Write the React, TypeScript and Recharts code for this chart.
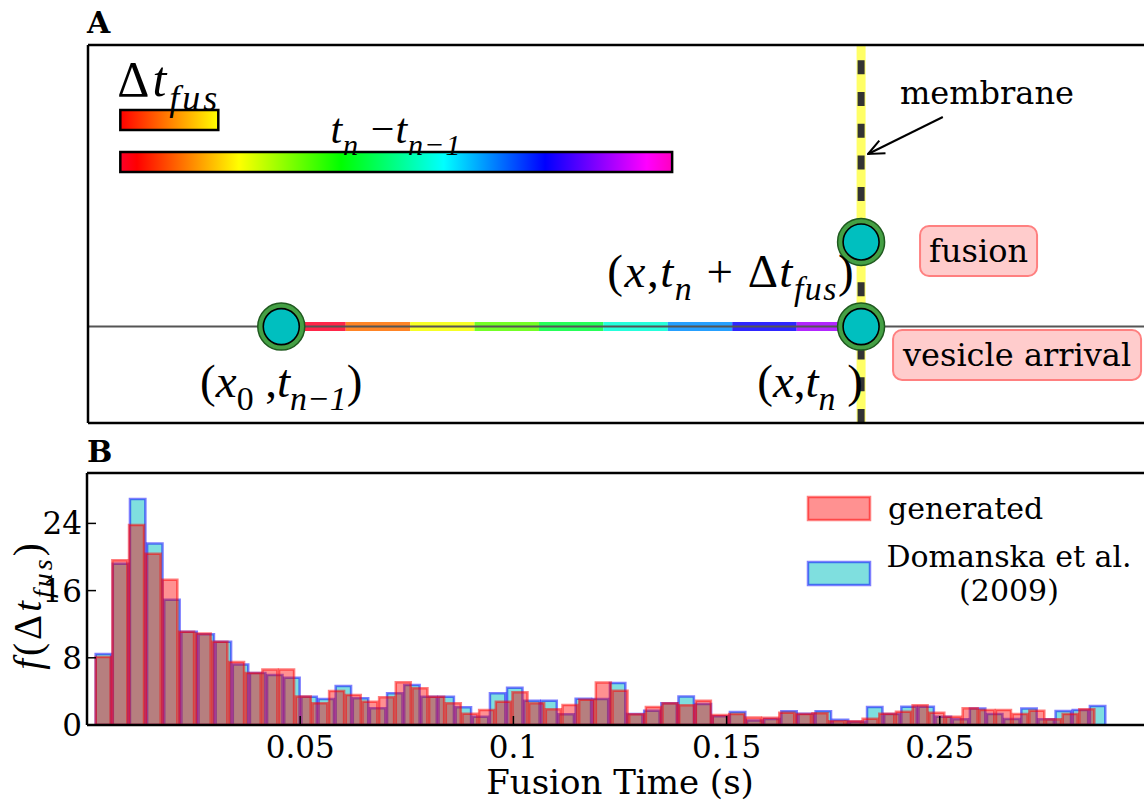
import React from "react";
import { ComposedChart, Bar, XAxis, YAxis, Scatter, ReferenceLine, ReferenceArea } from "recharts";

const SERIF = "'DejaVu Serif', serif";
const MATH = "'Liberation Serif', serif";

/* ---------------- panel B : histogram of fusion times ---------------- */
const TIME_DOMAIN: [number, number] = [0, 0.25];
const TIME_TICKS = [0.05, 0.1, 0.15, 0.2];
const TIME_TICK_LABELS = ["0.05", "0.1", "0.15", "0.25"];
const FREQ_DOMAIN: [number, number] = [0, 30];
const FREQ_TICKS = [0, 8, 16, 24];

// bin edges in seconds
const BIN_START = 0.0018;
const GEN_BIN = 0.00391; // 60 bins
const DOM_BIN = 0.00402; // 59 bins

const GENERATED = [
  8.1, 19.6, 23.8, 20.4, 17.3, 11.1, 10.9, 9.9, 7.5, 6.2,
  6.6, 6.6, 3.4, 2.6, 4.05, 3.57, 2.78, 3.29, 5.08, 4.37,
  3.37, 2.58, 1.35, 1.79, 2.78, 3.89, 2.58, 1.87, 2.38, 3.02,
  5.06, 4.09, 1.27, 2.14, 2.58, 2.35, 2.9, 1.19, 1.31, 0.89,
  0.85, 1.47, 1.31, 1.41, 0.46, 0.46, 0.75, 1.35, 1.59, 2.34,
  1.47, 0.99, 1.98, 1.79, 1.79, 1.31, 1.71, 0.67, 1.31, 1.87,
];
const DOMANSKA = [
  8.45, 19.2, 26.9, 21.6, 14.9, 11.1, 10.8, 9.9, 7.2, 6.2,
  5.95, 5.63, 3.37, 3.1, 4.64, 3.17, 1.98, 3.77, 4.76, 3.37,
  3.37, 2.1, 0.99, 3.77, 4.44, 2.9, 2.9, 1.27, 3.13, 3.1,
  5.0, 1.3, 1.7, 2.58, 3.4, 2.5, 1.05, 1.55, 0.55, 0.7,
  1.65, 1.33, 1.65, 0.63, 0.4, 2.14, 1.31, 2.18, 2.18, 0.99,
  0.67, 1.95, 1.31, 0.71, 1.95, 0.67, 1.67, 1.79, 2.26,
];
const LEGEND_NAMES = ["generated", "Domanska et al.", "(2009)"];

/* ---------------- panel A : schematic ---------------- */
const A_X_DOMAIN: [number, number] = [-1 / 3, 1.5];
const A_Y_DOMAIN: [number, number] = [0, 1];
const X0 = 0;
const X_MEMBRANE = 1;
const Y_TRACK = 0.255;
const Y_FUSION = 0.479;

const TRACK_COLORS = ["#ff0029", "#ff7000", "#f5ff00", "#5cff00", "#00ff3c", "#00ffd6", "#008fff", "#0b00ff", "#a500ff"];
const RAINBOW_STOPS: [number, string][] = [
  [0, "#ff0029"], [0.03, "#ff0000"], [0.215, "#ffff00"], [0.4, "#00ff00"],
  [0.586, "#00ffff"], [0.77, "#0000ff"], [0.954, "#ff00ff"], [1, "#ff00bf"],
];
const DT_BAR = { x1: -0.2776, x2: -0.1086, y1: 0.775, y2: 0.828 };
const GAP_BAR = { x1: -0.2776, x2: 0.6741, y1: 0.664, y2: 0.717 };
const ARROW = [{ x: 1.141, y: 0.8095 }, { x: 1.012, y: 0.7116 }];
const VESICLES = [
  { x: X0, y: Y_TRACK },
  { x: X_MEMBRANE, y: Y_TRACK },
  { x: X_MEMBRANE, y: Y_FUSION },
];
const ANNOTATIONS = [
  { x: -0.2828, y: 0.865, kind: "dtfus" },
  { x: 0.198, y: 0.741, kind: "gap" },
  { x: 0, y: 0.069, kind: "x0" },
  { x: 0.912, y: 0.069, kind: "xn" },
  { x: 0.776, y: 0.36, kind: "xfus" },
  { x: 1.217, y: 0.844, kind: "membrane" },
  { x: 1.2026, y: 0.455, kind: "fusion" },
  { x: 1.269, y: 0.18, kind: "arrival" },
];

type Piece = { t: string; it?: boolean; sub?: boolean };
const up = (t: string): Piece => ({ t });
const it = (t: string): Piece => ({ t, it: true });
const sub = (t: string): Piece => ({ t, it: true, sub: true });

const DT_FUS_TEX = [up("Δ"), it("t"), sub("fus")];
const GAP_TEX = [it("t"), sub("n"), up(" −"), it("t"), sub("n−1")];
const X0_TEX = [up("("), it("x"), { t: "0", sub: true }, up(" ,"), it("t"), sub("n−1"), up(")")];
const XN_TEX = [up("("), it("x"), up(","), it("t"), sub("n"), up(" )")];
const XFUS_TEX = [up("("), it("x"), up(","), it("t"), sub("n"), up(" + Δ"), it("t"), sub("fus"), up(")")];
const F_TEX = [it("f"), up("(Δ"), it("t"), sub("fus"), up(")")];

function MathText({ x, y, size, anchor = "start", pieces, transform, spacing = 0 }: any) {
  const shift = size * 0.28;
  let low = false;
  const spans = pieces.map((p: Piece, k: number) => {
    let dy = 0;
    if (p.sub && !low) dy = shift;
    if (!p.sub && low) dy = -shift;
    low = !!p.sub;
    return (
      <tspan key={k} dy={dy} fontStyle={p.it ? "italic" : "normal"} fontSize={p.sub ? size * 0.72 : size}>
        {p.t}
      </tspan>
    );
  });
  return (
    <text
      x={x}
      y={y}
      textAnchor={anchor}
      fontFamily={MATH}
      fill="#000"
      transform={transform}
      letterSpacing={spacing}
      style={{ whiteSpace: "pre" }}
    >
      {spans}
    </text>
  );
}

const VesicleMarker = (p: any) => (
  <g>
    <circle cx={p.cx} cy={p.cy} r={23.5} fill="#44a044" stroke="#1f5a1f" strokeWidth={1.5} />
    <circle cx={p.cx} cy={p.cy} r={18} fill="#00bfbf" stroke="#000" strokeWidth={1.6} />
  </g>
);

function PinkBox({ cx, cy, w, text }: any) {
  return (
    <g>
      <rect x={cx - w / 2} y={cy - 25} width={w} height={50} rx={9} fill="#ffcccc" stroke="#ff8080" strokeWidth={2} />
      <text x={cx} y={cy + 11} textAnchor="middle" fontFamily={SERIF} fontSize={32} fill="#000">{text}</text>
    </g>
  );
}

const Annotation = (p: any) => {
  const { cx, cy, payload } = p;
  switch (payload.kind) {
    case "dtfus":
      return <MathText x={cx} y={cy} size={50} pieces={DT_FUS_TEX} spacing={3} />;
    case "gap":
      return <MathText x={cx} y={cy} size={42} anchor="middle" pieces={GAP_TEX} spacing={1} />;
    case "x0":
      return <MathText x={cx} y={cy} size={47} anchor="middle" pieces={X0_TEX} />;
    case "xn":
      return <MathText x={cx} y={cy} size={47} anchor="middle" pieces={XN_TEX} />;
    case "xfus":
      return <MathText x={cx} y={cy} size={47} anchor="middle" pieces={XFUS_TEX} spacing={1.5} />;
    case "membrane":
      return <text x={cx} y={cy} textAnchor="middle" fontFamily={SERIF} fontSize={32} fill="#000">membrane</text>;
    case "fusion":
      return <PinkBox cx={cx} cy={cy} w={117} text="fusion" />;
    case "arrival":
      return <PinkBox cx={cx} cy={cy} w={248} text="vesicle arrival" />;
    default:
      return <g />;
  }
};

const AXIS_LINE = { stroke: "#000", strokeWidth: 2.5 };
const TICK_LINE = { stroke: "#000", strokeWidth: 1.5 };

function PanelA() {
  const step = (X_MEMBRANE - X0) / TRACK_COLORS.length;
  return (
    <ComposedChart width={1200} height={440} margin={{ top: 44, right: 48, bottom: 16, left: 0 }}>
      <defs>
        <linearGradient id="gradFus" x1="0" y1="0" x2="1" y2="0">
          <stop offset="0" stopColor="#ff0000" />
          <stop offset="1" stopColor="#ffff00" />
        </linearGradient>
        <linearGradient id="gradRainbow" x1="0" y1="0" x2="1" y2="0">
          {RAINBOW_STOPS.map(([o, c]) => (
            <stop key={o} offset={o} stopColor={c} />
          ))}
        </linearGradient>
        <marker id="arrowHead" viewBox="0 0 18 18" refX="17" refY="9" markerWidth="18" markerHeight="18" markerUnits="userSpaceOnUse" orient="auto">
          <path d="M1,2 L17,9 L1,16" fill="none" stroke="#000" strokeWidth="2" />
        </marker>
      </defs>
      <XAxis type="number" dataKey="x" domain={A_X_DOMAIN} allowDataOverflow ticks={[X0, X_MEMBRANE]} tick={false} height={1} tickSize={-9} axisLine={AXIS_LINE} tickLine={TICK_LINE} />
      <XAxis xAxisId="top" orientation="top" type="number" dataKey="x" domain={A_X_DOMAIN} allowDataOverflow ticks={[X0, X_MEMBRANE]} tick={false} height={1} tickSize={-9} axisLine={AXIS_LINE} tickLine={TICK_LINE} />
      <YAxis type="number" dataKey="y" domain={A_Y_DOMAIN} allowDataOverflow tick={false} tickLine={false} width={88} axisLine={AXIS_LINE} />
      <YAxis yAxisId="right" orientation="right" type="number" dataKey="y" domain={A_Y_DOMAIN} allowDataOverflow tick={false} tickLine={false} width={1} axisLine={AXIS_LINE} />

      <ReferenceArea x1={DT_BAR.x1} x2={DT_BAR.x2} y1={DT_BAR.y1} y2={DT_BAR.y2} fill="url(#gradFus)" fillOpacity={1} stroke="#000" strokeWidth={2.5} />
      <ReferenceArea x1={GAP_BAR.x1} x2={GAP_BAR.x2} y1={GAP_BAR.y1} y2={GAP_BAR.y2} fill="url(#gradRainbow)" fillOpacity={1} stroke="#000" strokeWidth={2.5} />

      {TRACK_COLORS.map((c, i) => (
        <ReferenceLine
          key={c}
          segment={[{ x: X0 + i * step, y: Y_TRACK }, { x: X0 + (i + 1) * step, y: Y_TRACK }]}
          stroke={c}
          strokeOpacity={0.85}
          strokeWidth={9}
        />
      ))}
      <ReferenceLine y={Y_TRACK} stroke="#555" strokeWidth={2} />
      <ReferenceLine x={X_MEMBRANE} stroke="#ffff66" strokeWidth={9} />
      <ReferenceLine x={X_MEMBRANE} stroke="#333" strokeWidth={7} strokeDasharray="14 17.7" />
      <ReferenceLine segment={ARROW} stroke="#000" strokeWidth={2} markerEnd="url(#arrowHead)" />

      <Scatter data={VESICLES} shape={VesicleMarker} isAnimationActive={false} />
      <Scatter data={ANNOTATIONS} shape={Annotation} isAnimationActive={false} />
    </ComposedChart>
  );
}

const PLOT_W = 1066;
const timePx = (t: number) => ((t - TIME_DOMAIN[0]) / (TIME_DOMAIN[1] - TIME_DOMAIN[0])) * PLOT_W;

function PanelB() {
  const n = GENERATED.length;
  const rows = GENERATED.map((g, i) => ({
    bin: i,
    t: BIN_START + (i + 0.5) * GEN_BIN,
    generated: g,
    domanska: i < DOMANSKA.length ? DOMANSKA[i] : null,
  }));
  const genPad = { left: timePx(BIN_START), right: PLOT_W - timePx(BIN_START + n * GEN_BIN) };
  const domPad = { left: timePx(BIN_START), right: PLOT_W - timePx(BIN_START + n * DOM_BIN) };
  const tickStyle = { fontSize: 31, fill: "#000", fontFamily: SERIF };

  const yLabel = (props: any) => {
    const vb = props && props.viewBox && props.viewBox.height ? props.viewBox : { x: 0, y: 33, width: 87, height: 252 };
    const cy = vb.y + vb.height / 2 + 6;
    return (
      <MathText x={0} y={0} size={39} anchor="middle" spacing={3} pieces={F_TEX} transform={`translate(${vb.x + 41},${cy}) rotate(-90)`} />
    );
  };

  return (
    <ComposedChart width={1200} height={363} data={rows} margin={{ top: 32, right: 46, bottom: 38, left: 0 }} barCategoryGap={0} barGap={0}>
      <XAxis
        xAxisId="time"
        type="number"
        dataKey="t"
        domain={TIME_DOMAIN}
        allowDataOverflow
        ticks={TIME_TICKS}
        interval={0}
        tickFormatter={(v: number) => TIME_TICK_LABELS[TIME_TICKS.indexOf(v)]}
        height={40}
        tickSize={-9}
        tickMargin={20}
        tick={tickStyle}
        axisLine={AXIS_LINE}
        tickLine={TICK_LINE}
        label={{ value: "Fusion Time (s)", position: "bottom", offset: 5, fill: "#000", fontSize: 34, fontFamily: SERIF }}
      />
      <XAxis xAxisId="timeTop" orientation="top" type="number" dataKey="t" domain={TIME_DOMAIN} allowDataOverflow ticks={TIME_TICKS} interval={0} height={1} tickSize={-9} tick={false} axisLine={AXIS_LINE} tickLine={TICK_LINE} />
      <XAxis xAxisId="dom" dataKey="bin" type="category" hide height={0} padding={domPad} />
      <XAxis xAxisId="gen" dataKey="bin" type="category" hide height={0} padding={genPad} />
      <YAxis
        type="number"
        domain={FREQ_DOMAIN}
        allowDataOverflow
        ticks={FREQ_TICKS}
        interval={0}
        width={87}
        tickSize={-9}
        tickMargin={14}
        tick={tickStyle}
        axisLine={AXIS_LINE}
        tickLine={TICK_LINE}
        label={yLabel}
      />
      <YAxis yAxisId="right" orientation="right" type="number" dataKey="generated" domain={FREQ_DOMAIN} allowDataOverflow ticks={FREQ_TICKS} interval={0} width={1} tickSize={-12} tick={false} axisLine={AXIS_LINE} tickLine={TICK_LINE} />

      <Bar
        xAxisId="dom"
        dataKey="domanska"
        barSize={timePx(DOM_BIN) - timePx(0)}
        fill="#00bfbf"
        fillOpacity={0.5}
        stroke="#0000ff"
        strokeOpacity={0.5}
        strokeWidth={2.5}
        isAnimationActive={false}
      />
      <Bar
        xAxisId="gen"
        dataKey="generated"
        barSize={timePx(GEN_BIN) - timePx(0)}
        fill="#ff0000"
        fillOpacity={0.43}
        stroke="#ff0000"
        strokeOpacity={0.5}
        strokeWidth={2.5}
        isAnimationActive={false}
      />
    </ComposedChart>
  );
}

function Overlay() {
  return (
    <svg width={1144} height={803} style={{ position: "absolute", left: 0, top: 0, pointerEvents: "none" }}>
      <text x={87} y={33} fontFamily={SERIF} fontWeight="bold" fontSize={30} fill="#000">A</text>
      <text x={87} y={462} fontFamily={SERIF} fontWeight="bold" fontSize={30} fill="#000">B</text>

      <rect x={808} y={497} width={62} height={23} fill="#ff0000" fillOpacity={0.43} stroke="#ff0000" strokeOpacity={0.5} strokeWidth={2.5} />
      <text x={888} y={519} fontFamily={SERIF} fontSize={30} fill="#000">{LEGEND_NAMES[0]}</text>
      <rect x={808} y={562} width={62} height={23} fill="#00bfbf" fillOpacity={0.5} stroke="#0000ff" strokeOpacity={0.5} strokeWidth={2.5} />
      <text x={1009} y={567} textAnchor="middle" fontFamily={SERIF} fontSize={30} fill="#000">{LEGEND_NAMES[1]}</text>
      <text x={1009} y={601} textAnchor="middle" fontFamily={SERIF} fontSize={30} fill="#000">{LEGEND_NAMES[2]}</text>
    </svg>
  );
}

export default function App() {
  return (
    <div style={{ position: "absolute", left: 0, top: 0, width: 1144, height: 803, overflow: "hidden", background: "#fff", fontFamily: SERIF }}>
      <div style={{ position: "absolute", left: 0, top: 0 }}>
        <PanelA />
      </div>
      <div style={{ position: "absolute", left: 0, top: 440 }}>
        <PanelB />
      </div>
      <Overlay />
    </div>
  );
}
